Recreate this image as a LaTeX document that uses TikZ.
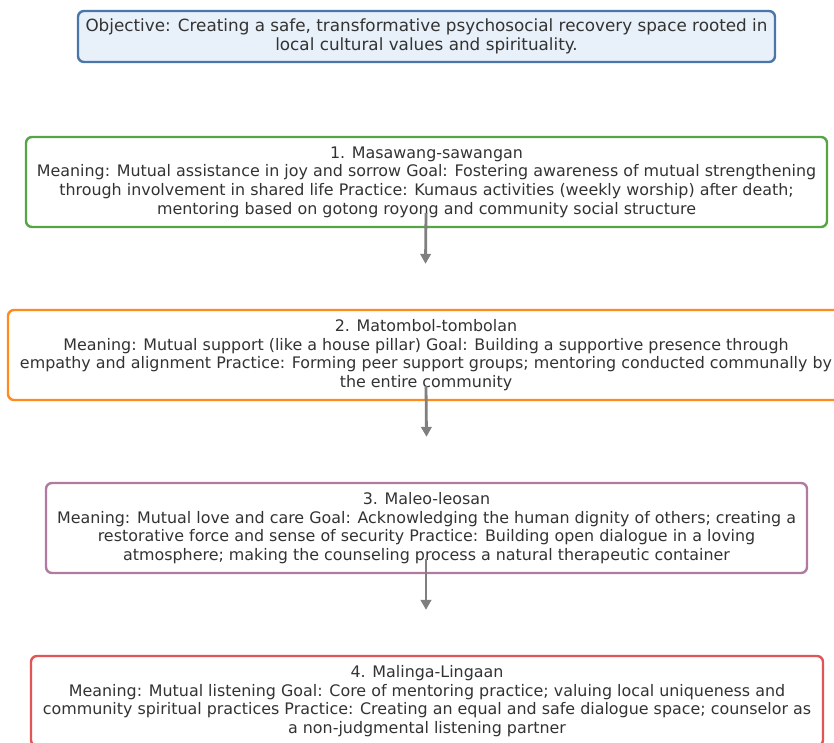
\documentclass[tikz,border=0pt]{standalone}
\usepackage{fontspec}
\setmainfont{DejaVu Sans}
\usetikzlibrary{arrows.meta}
\definecolor{objb}{HTML}{4A76AA}
\definecolor{objf}{HTML}{E8F0F9}
\definecolor{gb}{HTML}{55A545}
\definecolor{ob}{HTML}{FF8A1E}
\definecolor{pb}{HTML}{B07AA1}
\definecolor{rb}{HTML}{E05555}
\definecolor{txt}{HTML}{333333}
\definecolor{arr}{HTML}{7F7F7F}
\tikzset{
  box/.style={draw, line width=2.4pt, rounded corners=6pt, fill=white, align=center,
    inner sep=0pt, text=txt, font=\fontsize{15.9}{18.7}\selectfont},
  flow/.style={draw=arr, line width=2.8pt, -{Triangle[length=10pt,width=10.5pt]}}
}
\begin{document}
\begin{tikzpicture}[x=1pt,y=1pt]
\useasboundingbox (0,0) rectangle (834,-742);
\begin{scope}
\clip (0,0) rectangle (834,-742);
\node[box, draw=objb, fill=objf, minimum width=697pt, minimum height=51pt,
  font=\fontsize{16.8}{18.5}\selectfont] (obj) at (426.5,-36.5)
  {Objective: Creating a safe, transformative psychosocial recovery space rooted in\\local cultural values and spirituality.};
\node[box, draw=gb, minimum width=801pt, minimum height=90pt] (b1) at (426.5,-182)
  {1. Masawang-sawangan\\Meaning: Mutual assistance in joy and sorrow Goal: Fostering awareness of mutual strengthening\\through involvement in shared life Practice: Kumaus activities (weekly worship) after death;\\mentoring based on gotong royong and community social structure};
\node[box, draw=ob, minimum width=836pt, minimum height=90pt] (b2) at (426,-355)
  {2. Matombol-tombolan\\Meaning: Mutual support (like a house pillar) Goal: Building a supportive presence through\\empathy and alignment Practice: Forming peer support groups; mentoring conducted communally by\\the entire community};
\node[box, draw=pb, minimum width=761pt, minimum height=90pt] (b3) at (426.5,-528)
  {3. Maleo-leosan\\Meaning: Mutual love and care Goal: Acknowledging the human dignity of others; creating a\\restorative force and sense of security Practice: Building open dialogue in a loving\\atmosphere; making the counseling process a natural therapeutic container};
\node[box, draw=rb, minimum width=792pt, minimum height=90pt] (b4) at (427,-701)
  {4. Malinga-Lingaan\\Meaning: Mutual listening Goal: Core of mentoring practice; valuing local uniqueness and\\community spiritual practices Practice: Creating an equal and safe dialogue space; counselor as\\a non-judgmental listening partner};
\draw[flow] ([xshift=-0.5pt,yshift=-31pt]b1.center) -- ([xshift=-0.5pt,yshift=45pt]b2.north);
\draw[flow] ([yshift=-31pt]b2.center) -- ([yshift=45pt]b3.north);
\draw[flow] ([xshift=-0.5pt,yshift=-31pt]b3.center) -- ([xshift=-1pt,yshift=45pt]b4.north);
\end{scope}
\end{tikzpicture}
\end{document}
